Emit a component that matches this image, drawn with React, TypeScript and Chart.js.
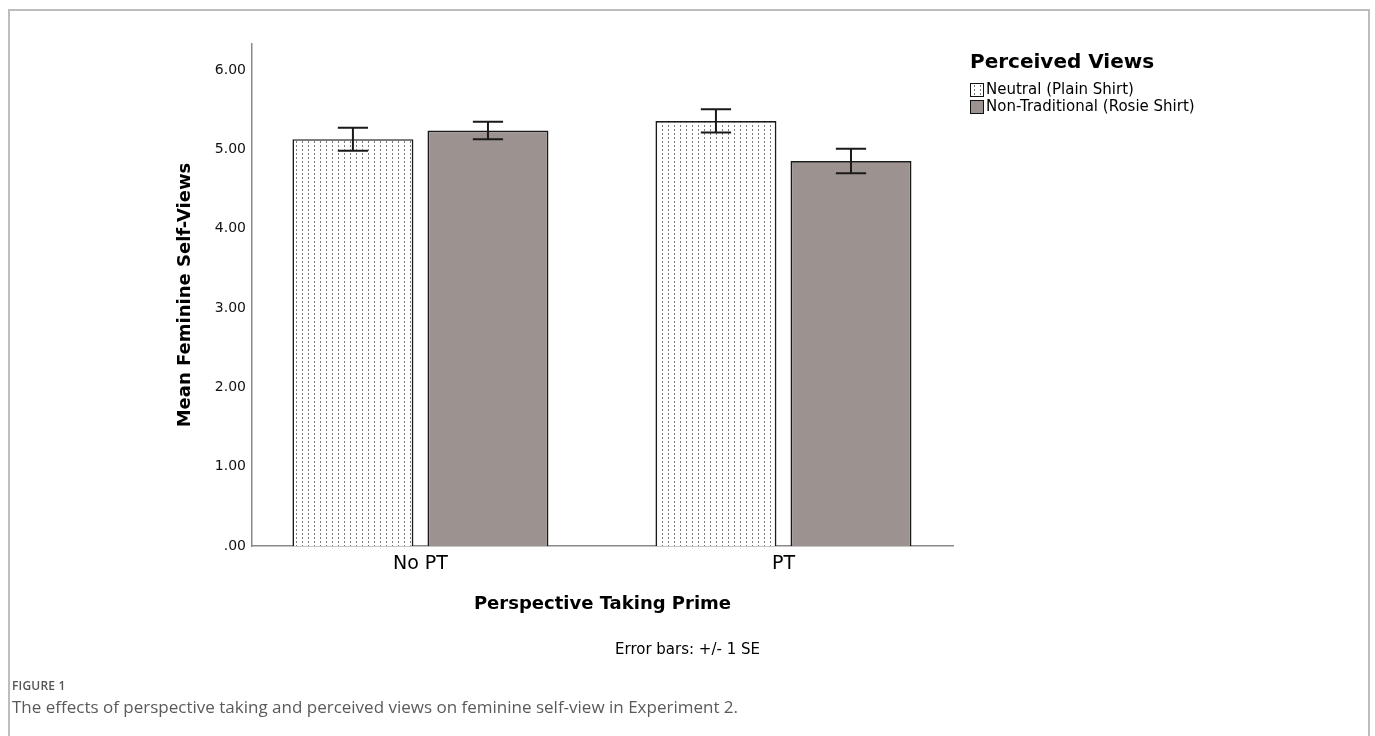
import React, { useEffect, useRef } from 'react';
import { Chart, registerables } from 'chart.js';

Chart.register(...registerables);

// ---- data ----
const CATEGORIES = ['No PT', 'PT'];
const CATEGORY_POSITIONS = [1, 2];
const SERIES_NAMES = ['Neutral (Plain Shirt)', 'Non-Traditional (Rosie Shirt)'];
const NEUTRAL_MEANS = [5.13, 5.36];
const NEUTRAL_SE = [0.145, 0.147];
const ROSIE_MEANS = [5.24, 4.855];
const ROSIE_SE = [0.11, 0.155];
const Y_TICKS = [0, 1, 2, 3, 4, 5, 6];
const Y_MIN = 0;
const Y_MAX = 6.33;
const X_MIN = 0.536;
const X_MAX = 2.467;
const Y_TITLE = 'Mean Feminine Self-Views';
const X_TITLE = 'Perspective Taking Prime';
const LEGEND_TITLE = 'Perceived Views';
const ERROR_NOTE = 'Error bars: +/- 1 SE';
const FIGURE_LABEL = 'FIGURE 1';
const CAPTION = 'The effects of perspective taking and perceived views on feminine self-view in Experiment 2.';

const FONT = '"DejaVu Sans", sans-serif';
const ROSIE_COLOR = '#9c9391';

function makeDotPattern(): CanvasPattern | string {
  const c = document.createElement('canvas');
  c.width = 6;
  c.height = 4;
  const g = c.getContext('2d');
  if (!g) return '#fff';
  g.fillStyle = '#ffffff';
  g.fillRect(0, 0, 6, 4);
  g.fillStyle = '#7a7a7a';
  g.fillRect(2, 1, 1, 2);
  return g.createPattern(c, 'repeat') || '#fff';
}

const errorBarPlugin = {
  id: 'errorBars',
  afterDatasetsDraw(chart: any) {
    const { ctx } = chart;
    const y = chart.scales.y;
    chart.data.datasets.forEach((ds: any, di: number) => {
      const meta = chart.getDatasetMeta(di);
      meta.data.forEach((bar: any, i: number) => {
        const p = bar.getProps(['x', 'width'], true);
        const m = ds.data[i].y;
        const e = ds.errors[i];
        const yt = y.getPixelForValue(m + e);
        const yb = y.getPixelForValue(m - e);
        const half = p.width * 0.125;
        ctx.save();
        ctx.strokeStyle = '#1a1a1a';
        ctx.lineWidth = 2;
        ctx.beginPath();
        ctx.moveTo(p.x, yt);
        ctx.lineTo(p.x, yb);
        ctx.moveTo(p.x - half, yt);
        ctx.lineTo(p.x + half, yt);
        ctx.moveTo(p.x - half, yb);
        ctx.lineTo(p.x + half, yb);
        ctx.stroke();
        ctx.restore();
      });
    });
  },
};

const legendPlugin = {
  id: 'spssLegend',
  afterDraw(chart: any) {
    const { ctx, chartArea } = chart;
    const x0 = chartArea.right + 17;
    const yTitle = chartArea.top + 19;
    ctx.save();
    ctx.textAlign = 'left';
    ctx.textBaseline = 'middle';
    ctx.fillStyle = '#000';
    ctx.font = `bold 20px ${FONT}`;
    ctx.fillText(LEGEND_TITLE, x0, yTitle);
    ctx.font = `15px ${FONT}`;
    chart.data.datasets.forEach((ds: any, i: number) => {
      const cy = yTitle + 27 + i * 17;
      ctx.fillStyle = ds.backgroundColor;
      ctx.fillRect(x0, cy - 7, 14, 14);
      ctx.strokeStyle = '#111';
      ctx.lineWidth = 1;
      ctx.strokeRect(x0 + 0.5, cy - 6.5, 13, 13);
      ctx.fillStyle = '#000';
      ctx.fillText(SERIES_NAMES[i], x0 + 16, cy);
    });
    ctx.restore();
  },
};

export default function App() {
  const ref = useRef<HTMLCanvasElement>(null);

  useEffect(() => {
    if (!ref.current) return;
    const dots = makeDotPattern();
    const chart = new Chart(ref.current, {
      type: 'bar',
      data: {
        datasets: [
          {
            label: SERIES_NAMES[0],
            data: CATEGORY_POSITIONS.map((x, i) => ({ x, y: NEUTRAL_MEANS[i] })),
            errors: NEUTRAL_SE,
            backgroundColor: dots,
            borderColor: '#1a1a1a',
            borderWidth: 1.7,
          } as any,
          {
            label: SERIES_NAMES[1],
            data: CATEGORY_POSITIONS.map((x, i) => ({ x, y: ROSIE_MEANS[i] })),
            errors: ROSIE_SE,
            backgroundColor: ROSIE_COLOR,
            borderColor: '#1a1a1a',
            borderWidth: 1.7,
          } as any,
        ],
      },
      options: {
        responsive: false,
        animation: false,
        devicePixelRatio: 1,
        categoryPercentage: 0.744,
        barPercentage: 0.896,
        layout: { padding: { left: 0, right: 0, top: 44, bottom: 0 } },
        plugins: {
          legend: { display: false },
          tooltip: { enabled: false },
          subtitle: {
            display: true,
            position: 'bottom',
            text: ERROR_NOTE,
            color: '#000',
            font: { family: FONT, size: 15 },
            padding: { top: 0, bottom: 11 },
          },
        },
        scales: {
          x: {
            type: 'linear',
            offset: false,
            grace: 0,
            min: X_MIN,
            max: X_MAX,
            afterBuildTicks: (s: any) => {
              s.ticks = CATEGORY_POSITIONS.map((v) => ({ value: v }));
            },
            afterFit: (s: any) => {
              s.height = 95;
            },
            ticks: {
              color: '#000',
              font: { family: FONT, size: 19 },
              padding: 7,
              callback: (v: any) => CATEGORIES[CATEGORY_POSITIONS.indexOf(Number(v))] ?? '',
            },
            grid: { display: false, drawTicks: false, tickLength: 0, offset: false },
            border: { display: true, color: '#8a8a8a', width: 1.5 },
            title: {
              display: true,
              text: X_TITLE,
              color: '#000',
              font: { family: FONT, size: 18, weight: 'bold' },
              padding: { top: 0, bottom: 26 },
            },
          },
          y: {
            type: 'linear',
            min: Y_MIN,
            max: Y_MAX,
            afterBuildTicks: (s: any) => {
              s.ticks = Y_TICKS.map((v) => ({ value: v }));
            },
            afterFit: (s: any) => {
              s.width = 252;
            },
            ticks: {
              color: '#111',
              font: { family: FONT, size: 14 },
              padding: 6,
              callback: (v: any) => (Number(v) === 0 ? '.00' : Number(v).toFixed(2)),
            },
            grid: { display: false, drawTicks: false, tickLength: 0 },
            border: { display: true, color: '#8a8a8a', width: 1.5 },
            title: {
              display: true,
              text: Y_TITLE,
              color: '#000',
              font: { family: FONT, size: 18, weight: 'bold' },
              padding: { top: 175, bottom: 0 },
            },
          },
          legendSpace: {
            type: 'linear',
            position: 'right',
            display: true,
            afterFit: (s: any) => {
              s.width = 422;
            },
            ticks: { display: false },
            grid: { display: false, drawTicks: false },
            border: { display: false },
          },
        },
      } as any,
      plugins: [errorBarPlugin, legendPlugin],
    });
    return () => chart.destroy();
  }, []);

  return (
    <>
      <div
        style={{
          position: 'fixed',
          left: 8,
          top: 9,
          width: 1362,
          height: 800,
          boxSizing: 'border-box',
          border: '2px solid #bdbdbd',
        }}
      />
      <canvas
        ref={ref}
        width={1375}
        height={670}
        style={{ position: 'fixed', left: 0, top: 0, width: 1375, height: 670, display: 'block' }}
      />
      <div
        style={{
          position: 'fixed',
          left: 12,
          top: 677,
          fontFamily: '"Open Sans", "Noto Sans", sans-serif',
          color: '#555',
        }}
      >
        <div style={{ fontSize: 12, fontWeight: 600, letterSpacing: 0.2 }}>{FIGURE_LABEL}</div>
        <div style={{ fontSize: 17, marginTop: 1, color: '#5a5a5a' }}>{CAPTION}</div>
      </div>
    </>
  );
}
